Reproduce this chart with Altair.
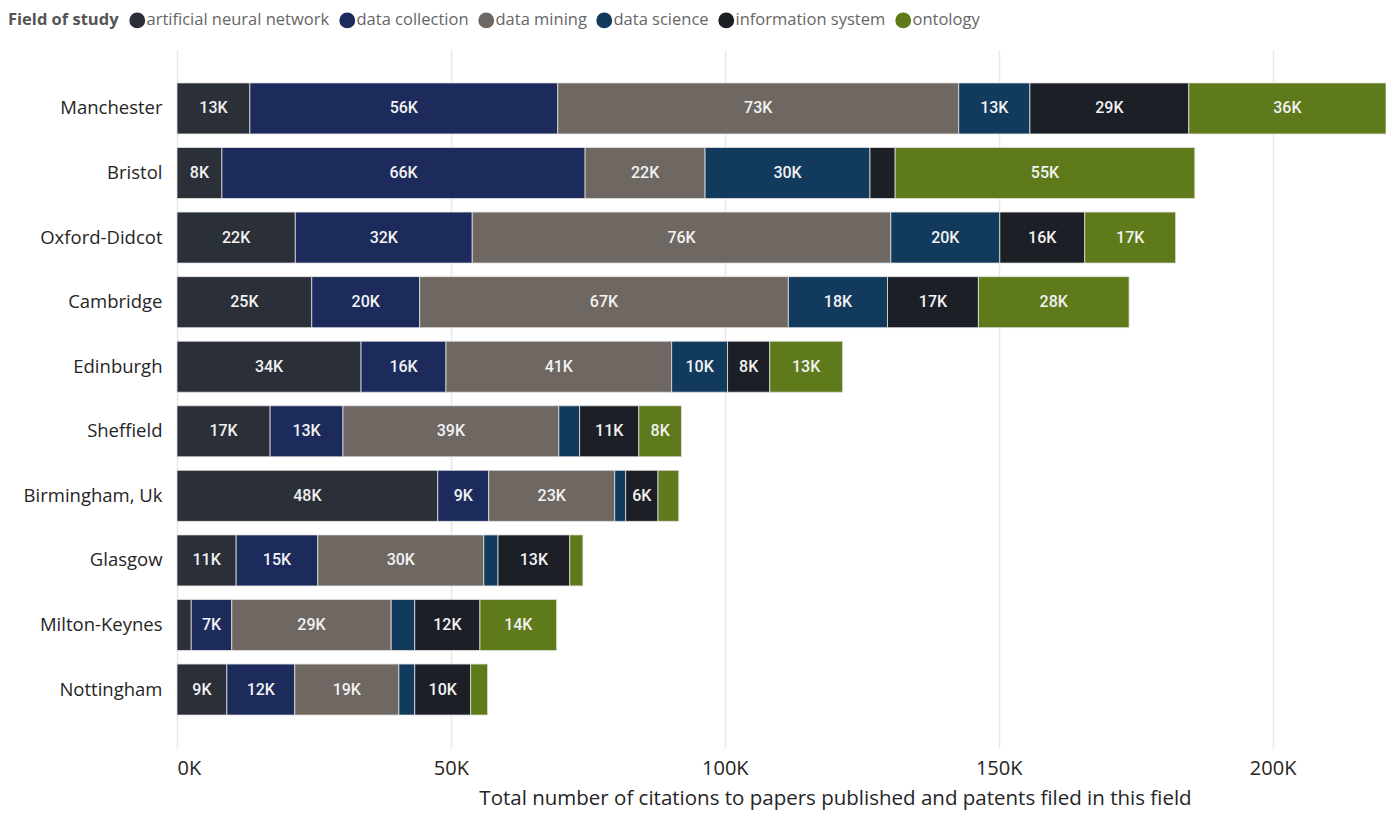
import altair as alt
import pandas as pd

cities = ["Manchester", "Bristol", "Oxford-Didcot", "Cambridge", "Edinburgh",
          "Sheffield", "Birmingham, Uk", "Glasgow", "Milton-Keynes", "Nottingham"]
fields = ["artificial neural network", "data collection", "data mining",
          "data science", "information system", "ontology"]
colors = ["#2b2f38", "#1c2a5c", "#6f6862", "#123a5c", "#1d1f26", "#5e7a1a"]

# values in thousands of citations, one list per field (same order as cities)
ann = [13.3, 8.2, 21.6, 24.6, 33.6, 17.0, 47.6, 10.8, 2.6, 9.1]
dcol = [56.2, 66.3, 32.3, 19.7, 15.5, 13.3, 9.3, 14.9, 7.4, 12.4]
dmin = [73.2, 21.9, 76.4, 67.3, 41.2, 39.4, 23.0, 30.3, 29.1, 19.0]
dsci = [13.0, 30.1, 19.9, 18.1, 10.2, 3.8, 2.0, 2.6, 4.3, 2.9]
isys = [29.0, 4.6, 15.5, 16.6, 7.7, 10.8, 5.9, 13.1, 11.9, 10.2]
onto = [36.0, 54.7, 16.6, 27.5, 13.3, 7.8, 3.8, 2.4, 14.0, 3.1]

series = [ann, dcol, dmin, dsci, isys, onto]
rows = []
for fi, (f, vals) in enumerate(zip(fields, series)):
    for c, v in zip(cities, vals):
        rows.append({"city": c, "field": f, "order": fi, "value": v})
df = pd.DataFrame(rows)

base = alt.Chart(df).transform_window(
    cum="sum(value)", groupby=["city"], sort=[alt.SortField("order")],
    frame=[None, 0]
).transform_calculate(
    start="datum.cum - datum.value",
    mid="datum.cum - datum.value / 2",
    label="round(datum.value) + 'K'"
)

y = alt.Y("city:N", sort=cities, title=None,
          scale=alt.Scale(paddingInner=0.21, paddingOuter=0.51),
          axis=alt.Axis(domain=False, ticks=False, labelFontSize=18.5,
                        labelColor="#252525", labelPadding=15,
                        labelFont="Open Sans"))

bars = base.mark_bar(stroke="#e2e2e2", strokeWidth=0.8).encode(
    x=alt.X("start:Q", title="Total number of citations to papers published and patents filed in this field",
            scale=alt.Scale(nice=False, zero=True),
            axis=alt.Axis(values=[0, 50, 100, 150, 200],
                          labelExpr="datum.value + 'K'", domain=False, ticks=False,
                          labelFontSize=20, labelColor="#252525", labelPadding=10,
                          labelFont="Open Sans", titleFont="Open Sans",
                          titleFontSize=20.5, titleFontWeight="normal",
                          titleColor="#252525", titlePadding=10,
                          titleX=658, titleAlign="center",
                          grid=True, gridColor="#e8e8e8", gridWidth=1.5)),
    x2="cum:Q",
    y=y,
    color=alt.Color("field:N", sort=fields,
                    scale=alt.Scale(domain=fields, range=colors),
                    legend=alt.Legend(title="Field of study", orient="none",
                                      direction="horizontal", titleOrient="left",
                                      legendX=-169, legendY=-38,
                                      titleFontSize=16.5, titleFont="Open Sans",
                                      titleColor="#555555", titleFontWeight="bold",
                                      labelFontSize=16.5, labelFont="Open Sans",
                                      labelColor="#666666", symbolType="circle",
                                      symbolSize=250, symbolStrokeWidth=0,
                                      symbolOpacity=1, columnPadding=9,
                                      labelOffset=1, titlePadding=10,
                                      labelLimit=400, columns=6)),
)

text = base.transform_filter("datum.value >= 5.5").mark_text(
    color="#f2f2f2", fontSize=16, font="Roboto", fontWeight=500
).encode(
    x=alt.X("mid:Q"),
    y=alt.Y("city:N", sort=cities),
    text="label:N",
)

chart = alt.layer(bars, text).properties(
    width=1209, height=698,
    autosize=alt.AutoSizeParams(type="none"),
    padding={"left": 169, "top": 42, "right": 0, "bottom": 65},
).configure_view(stroke=None)

chart.save("out.html", embed_options={"renderer": "svg", "actions": False})
